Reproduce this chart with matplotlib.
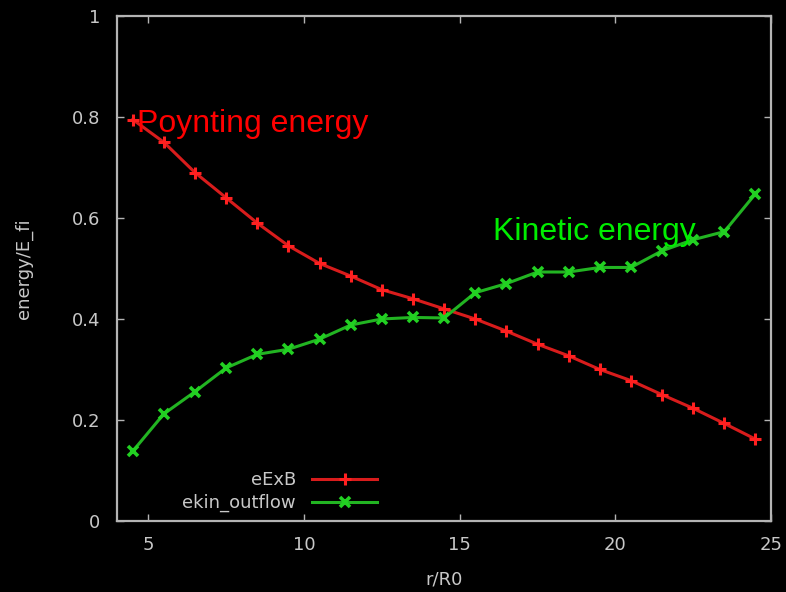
import matplotlib
matplotlib.use("Agg")
import matplotlib.pyplot as plt

# radial position r/R0
r = [4.5, 5.5, 6.5, 7.5, 8.5, 9.5, 10.5, 11.5, 12.5, 13.5, 14.5,
     15.5, 16.5, 17.5, 18.5, 19.5, 20.5, 21.5, 22.5, 23.5, 24.5]

# Poynting (ExB) energy fraction
exb = [0.795, 0.750, 0.690, 0.640, 0.590, 0.545, 0.510, 0.485, 0.458, 0.440, 0.420,
       0.400, 0.376, 0.350, 0.327, 0.300, 0.278, 0.250, 0.223, 0.193, 0.162]

# kinetic outflow energy fraction
ekin = [0.138, 0.212, 0.256, 0.303, 0.330, 0.340, 0.360, 0.388, 0.400, 0.403, 0.402,
        0.452, 0.470, 0.493, 0.493, 0.502, 0.502, 0.535, 0.557, 0.573, 0.648]

xticks = [5, 10, 15, 20, 25]
yticks = [0, 0.2, 0.4, 0.6, 0.8, 1]
ytick_labels = ["0", "0.2", "0.4", "0.6", "0.8", "1"]

fg = "#c8c8c8"
small = 13
fig = plt.figure(figsize=(7.86, 5.92), dpi=100, facecolor="black")
ax = fig.add_axes([0.149, 0.120, 0.832, 0.853], facecolor="black")

ax.plot(r, exb, color="#d81c1c", lw=2.2, marker="+", ms=8, mew=2.2,
        mec="#ff2020", label="eExB")
ax.plot(r, ekin, color="#22b422", lw=2.2, marker="x", ms=6.5, mew=2.6,
        mec="#22d022", label="ekin_outflow")

ax.set_xlim(4, 25)
ax.set_ylim(0, 1)
ax.set_xticks(xticks)
ax.set_yticks(yticks)
ax.set_yticklabels(ytick_labels)

for s in ax.spines.values():
    s.set_color("#b4b4b4")
    s.set_linewidth(1.6)

ax.tick_params(axis="both", direction="in", length=5, width=1, color="#b4b4b4",
               labelcolor=fg, labelsize=small, top=True, right=True)
ax.tick_params(axis="y", pad=12)
ax.tick_params(axis="x", pad=11)

ax.set_xlabel("r/R0", color=fg, fontsize=small, labelpad=12)
ax.set_ylabel("energy/E_fi", color=fg, fontsize=small, labelpad=28)

ax.text(4.64, 0.770, "Poynting energy", color="#ff0000", fontsize=23,
        family="Liberation Sans", ha="left", va="baseline")
ax.text(16.06, 0.556, "Kinetic energy", color="#00ee00", fontsize=23,
        family="Liberation Sans", ha="left", va="baseline")

leg = ax.legend(loc="upper right", bbox_to_anchor=(377 / 786, (592 - 471) / 592),
                bbox_transform=fig.transFigure, frameon=False, markerfirst=False,
                handlelength=3.6, handletextpad=0.9, labelspacing=0.28,
                borderpad=0, borderaxespad=0, fontsize=small)
for t in leg.get_texts():
    t.set_color(fg)

fig.savefig("out.png", dpi=100, facecolor="black")
